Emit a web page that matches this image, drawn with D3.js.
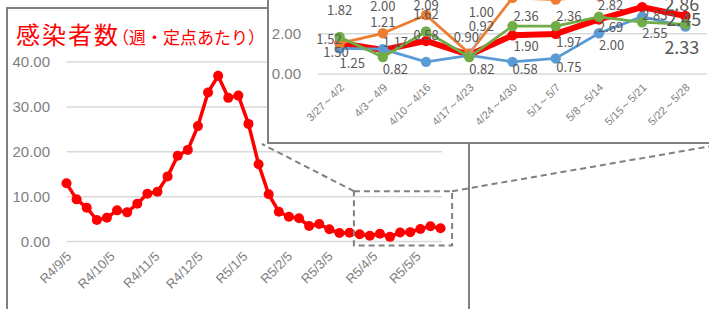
<!DOCTYPE html>
<html>
<head>
<meta charset="utf-8">
<script src="https://cdn.jsdelivr.net/npm/d3@7"></script>
<style>
  html, body { margin: 0; padding: 0; background: #fff; }
  svg { display: block; font-family: "Noto Sans CJK JP", "Noto Sans", sans-serif; }
</style>
</head>
<body>
<svg id="chart" width="709" height="309"></svg>
<script>
// main chart: weekly value per sentinel site, R4/9/5 .. R5/5/22
const weekDates = [
  "2022-09-05", "2022-09-12", "2022-09-19", "2022-09-26", "2022-10-03", "2022-10-10",
  "2022-10-17", "2022-10-24", "2022-10-31", "2022-11-07", "2022-11-14", "2022-11-21",
  "2022-11-28", "2022-12-05", "2022-12-12", "2022-12-19", "2022-12-26", "2023-01-02",
  "2023-01-09", "2023-01-16", "2023-01-23", "2023-01-30", "2023-02-06", "2023-02-13",
  "2023-02-20", "2023-02-27", "2023-03-06", "2023-03-13", "2023-03-20", "2023-03-27",
  "2023-04-03", "2023-04-10", "2023-04-17", "2023-04-24", "2023-05-01", "2023-05-08",
  "2023-05-15", "2023-05-22"
];
const weekValues = [
  12.85, 9.28, 7.42, 4.68, 5.19, 6.83,
  6.38, 8.31, 10.54, 10.98, 14.40, 19.00,
  20.30, 25.60, 33.10, 36.80, 31.90, 32.40,
  26.10, 17.10, 10.40, 6.53, 5.41, 5.05,
  3.34, 3.79, 2.60, 1.78, 1.85, 1.52,
  1.17, 1.62, 0.92, 1.90, 1.97, 2.69,
  3.30, 2.86
];
const tickDates = ["2022-09-05", "2022-10-05", "2022-11-05", "2022-12-05", "2023-01-05",
  "2023-02-05", "2023-03-05", "2023-04-05", "2023-05-05"];
const tickLabels = ["R4/9/5", "R4/10/5", "R4/11/5", "R4/12/5", "R5/1/5",
  "R5/2/5", "R5/3/5", "R5/4/5", "R5/5/5"];
const mainYTicks = [0, 10, 20, 30, 40];

// inset: last 9 weeks, four series
const insetWeeks = ["3/27～4/2", "4/3～4/9", "4/10～4/16", "4/17～4/23", "4/24～4/30",
  "5/1～5/7", "5/8～5/14", "5/15～5/21", "5/22～5/28"];
const insetRed = [1.52, 1.17, 1.62, 0.92, 1.90, 1.97, 2.69, 3.30, 2.86];
const insetBlue = [1.25, 1.21, 0.58, 0.90, 0.58, 0.75, 2.00, 2.83, 2.33];
const insetOrange = [1.50, 2.00, 2.91, 1.00, 3.76, 3.68, 3.86, 4.20, 4.10];
const insetGreen = [1.82, 0.82, 2.09, 0.82, 2.36, 2.36, 2.82, 2.55, 2.45];
const insetYTicks = [0, 2, 4];

// hand-placed data labels (dx, dy, anchor); null = centred above point
const labelNudge = {
  red:    [[2, 1, "end"], [0, -3, "start"], null, [12, -24.5, "middle"], [1, 15.5, "start"],
           [0.5, 13, "start"], [-1, 12.5, "start"], null, [-21, -5.5, "start"]],
  blue:   [[0, 20, "start"], null, null, [-3, -13.5, "middle"], [0, 12, "start"],
           [0.5, 13.5, "start"], [0, 17, "start"], [0, 3.5, "start"], [-21, 27, "start"]],
  orange: [[9, 14, "end"], null, null, [12, -36.5, "middle"], null, null, null, null, null],
  green:  [null, [0, 16.5, "start"], null, [0, 16.5, "start"], [1, -5, "start"],
           [0.5, -5, "start"], [-1, -7, "start"], [0, 16, "start"], [-19, 2, "start"]]
};

const svg = d3.select("#chart");
const parse = d3.timeParse("%Y-%m-%d");
const dates = weekDates.map(parse);
const gray = "#808080";
const grid = "#d9d9d9";
const fmt = d3.format(".2f");

// ---- main panel ----
svg.append("rect")
  .attr("x", 7).attr("y", 8).attr("width", 462).attr("height", 400)
  .attr("fill", "#fff").attr("stroke", gray).attr("stroke-width", 2);

const title = svg.append("text").attr("x", 16).attr("y", 44).attr("fill", "#ff0000");
title.append("tspan").attr("font-size", 24).attr("letter-spacing", 2).text("感染者数");
title.append("tspan").attr("font-size", 17).attr("dx", -8).text("（週・定点あたり）");

const x = d3.scaleTime()
  .domain([dates[0], d3.timeDay.offset(dates[dates.length - 1], 1)])
  .range([66.5, 442]);
const y = d3.scaleLinear().domain([0, 40]).range([241, 61.5]);

svg.append("g")
  .attr("transform", "translate(66.5,0)")
  .call(d3.axisLeft(y).tickValues(mainYTicks).tickSize(-375.5).tickFormat(""))
  .call(g => g.select(".domain").remove())
  .call(g => g.selectAll("line").attr("stroke", grid).attr("stroke-width", 1.5));

svg.append("g")
  .attr("transform", "translate(50,0)")
  .call(d3.axisLeft(y).tickValues(mainYTicks).tickSize(0).tickPadding(0).tickFormat(fmt))
  .call(g => g.select(".domain").remove())
  .call(g => g.selectAll("text")
    .attr("fill", gray).attr("font-size", 15).attr("font-family", null).attr("dy", "0.36em"));

const xAxis = svg.append("g")
  .attr("transform", "translate(0,241)")
  .call(d3.axisBottom(x).tickValues(tickDates.map(parse)).tickSize(0)
    .tickFormat((d, i) => tickLabels[i]));
xAxis.select(".domain").remove();
xAxis.selectAll("text")
  .attr("fill", gray).attr("font-size", 13).attr("font-family", null)
  .attr("text-anchor", "end").attr("y", 0).attr("dy", "0.35em")
  .attr("transform", "translate(2,13) rotate(-45)");

const mainLine = d3.line().x((d, i) => x(dates[i])).y(d => y(d));
svg.append("path")
  .datum(weekValues)
  .attr("d", mainLine)
  .attr("fill", "none").attr("stroke", "#ff0000").attr("stroke-width", 3.5)
  .attr("stroke-linejoin", "round");
svg.append("g").selectAll("circle")
  .data(weekValues)
  .join("circle")
  .attr("cx", (d, i) => x(dates[i])).attr("cy", d => y(d)).attr("r", 5)
  .attr("fill", "#ff0000");

// zoom box round the last nine weeks + connectors to the inset
const boxL = x(d3.timeDay.offset(dates[29], -4));
const boxR = x(d3.timeDay.offset(dates[37], 8));
const boxT = y(11.1), boxB = y(-1);
const dash = g => g.attr("fill", "none").attr("stroke", gray).attr("stroke-width", 2)
  .attr("stroke-dasharray", "6,4");
svg.append("rect")
  .attr("x", boxL).attr("y", boxT).attr("width", boxR - boxL).attr("height", boxB - boxT)
  .call(dash);
svg.append("line").attr("x1", boxL).attr("y1", boxT).attr("x2", 262).attr("y2", 144).call(dash);
svg.append("line").attr("x1", boxR).attr("y1", boxT).attr("x2", 735).attr("y2", 142).call(dash);

// ---- inset panel ----
svg.append("rect")
  .attr("x", 268).attr("y", -60).attr("width", 500).attr("height", 203)
  .attr("fill", "#fff").attr("stroke", gray).attr("stroke-width", 2);

const ix = d3.scalePoint().domain(insetWeeks).range([318, 707]).padding(0.5);
const iy = d3.scaleLinear().domain([0, 4]).range([73.5, -6.9]);

svg.append("g")
  .attr("transform", "translate(318,0)")
  .call(d3.axisLeft(iy).tickValues(insetYTicks).tickSize(-389).tickFormat(""))
  .call(g => g.select(".domain").remove())
  .call(g => g.selectAll("line").attr("stroke", grid).attr("stroke-width", 1.5));

svg.append("g")
  .attr("transform", "translate(301,0)")
  .call(d3.axisLeft(iy).tickValues(insetYTicks).tickSize(0).tickPadding(0).tickFormat(fmt))
  .call(g => g.select(".domain").remove())
  .call(g => g.selectAll("text")
    .attr("fill", gray).attr("font-size", 15).attr("font-family", null).attr("dy", "0.36em"));

const ixAxis = svg.append("g")
  .attr("transform", "translate(0,73.5)")
  .call(d3.axisBottom(ix).tickSize(0));
ixAxis.select(".domain").remove();
ixAxis.selectAll("text")
  .attr("fill", gray).attr("font-size", 11).attr("font-family", null)
  .attr("text-anchor", "end").attr("y", 0).attr("dy", "0.35em")
  .attr("transform", "translate(2,12) rotate(-45)");

const series = [
  { key: "red", values: insetRed, color: "#ff0000", width: 6 },
  { key: "blue", values: insetBlue, color: "#5b9bd5", width: 2.75 },
  { key: "orange", values: insetOrange, color: "#ed7d31", width: 2.75 },
  { key: "green", values: insetGreen, color: "#70ad47", width: 2.75 }
];
const insetLine = d3.line().x((d, i) => ix(insetWeeks[i])).y(d => iy(d));

series.forEach(s => {
  svg.append("path")
    .datum(s.values)
    .attr("d", insetLine)
    .attr("fill", "none").attr("stroke", s.color).attr("stroke-width", s.width)
    .attr("stroke-linejoin", "round");
  svg.append("g").selectAll("circle")
    .data(s.values)
    .join("circle")
    .attr("cx", (d, i) => ix(insetWeeks[i])).attr("cy", d => iy(d)).attr("r", 5.2)
    .attr("fill", s.color);
});

// leader line for the crowded 4/17 column
const c4 = ix(insetWeeks[3]);
svg.append("line")
  .attr("x1", c4 + 12).attr("y1", iy(insetRed[3]) - 22)
  .attr("x2", c4 + 1).attr("y2", iy(insetRed[3]) - 1)
  .attr("stroke", "#a6a6a6").attr("stroke-width", 1.5);

// data labels on top of everything
series.forEach(s => {
  svg.append("g").selectAll("text")
    .data(s.values)
    .join("text")
    .each(function(d, i) {
      const n = labelNudge[s.key][i] || [0, -22, "middle"];
      d3.select(this)
        .attr("x", ix(insetWeeks[i]) + n[0])
        .attr("y", iy(d) + n[1])
        .attr("text-anchor", n[2])
        .attr("font-size", i === insetWeeks.length - 1 ? 18 : 13);
    })
    .attr("fill", "#595959")
    .text(d => fmt(d));
});
</script>
</body>
</html>
